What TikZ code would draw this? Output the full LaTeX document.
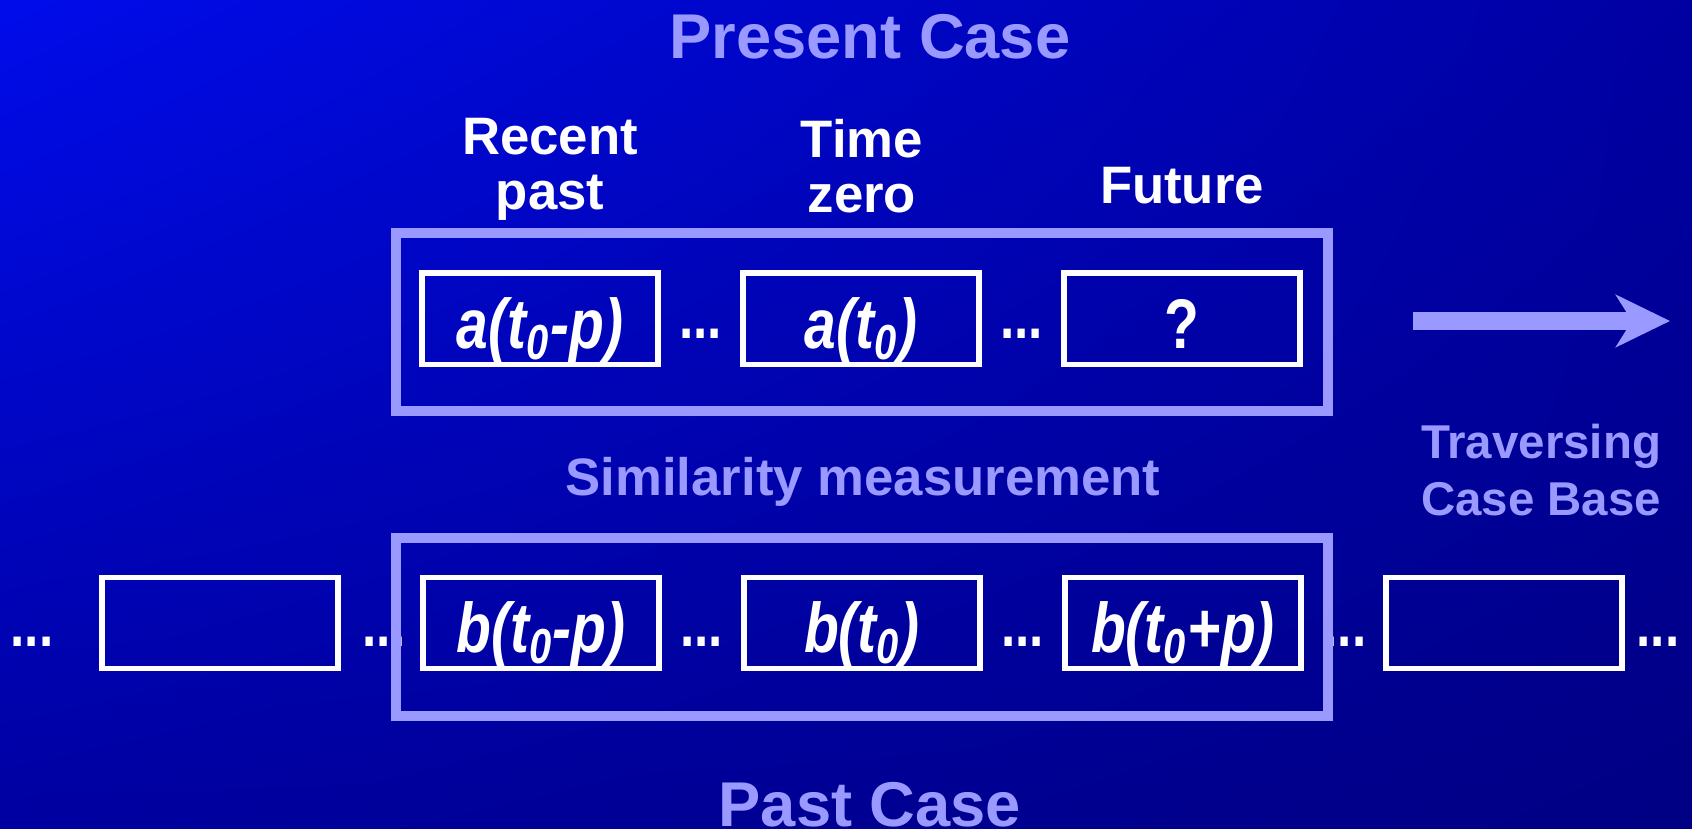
\documentclass[tikz,border=0pt]{standalone}
\usepackage{fontspec}
\setmainfont{Liberation Sans}
\newfontfamily\cellfont[FakeStretch=0.81]{Liberation Sans}
\usepackage{tikz}
\usetikzlibrary{arrows.meta,positioning,calc,shadings}
\definecolor{bgtopleft}{RGB}{0,12,235}
\definecolor{bgtopright}{RGB}{0,0,162}
\definecolor{bgbotleft}{RGB}{0,0,160}
\definecolor{bgbotright}{RGB}{0,0,132}
\definecolor{lavender}{RGB}{153,153,255}
\newcommand{\tz}{t\textsubscript{0}}

\begin{document}
\begin{tikzpicture}[
    x=1cm, y=1cm,
    node distance=0.79cm,
    headline/.style={font=\fontsize{18}{20}\selectfont\bfseries, text=lavender, inner sep=0pt},
    steplabel/.style={font=\fontsize{15}{15.6}\selectfont\bfseries, text=white, align=center, inner sep=0pt},
    sidelabel/.style={font=\fontsize{15}{15.6}\selectfont\bfseries, text=lavender, align=center, inner sep=0pt},
    cell/.style={draw=white, line width=1.7pt, minimum width=2.36cm, minimum height=0.91cm,
                 text=white, font=\cellfont\fontsize{20}{24}\selectfont\bfseries\itshape,
                 text height=16.8pt, text depth=0pt, inner sep=0pt},
    gap/.style={text=white, font=\cellfont\fontsize{18}{20}\selectfont\bfseries, inner sep=0pt},
    frame/.style={draw=lavender, line width=2.8pt, minimum width=9.32cm, minimum height=1.78cm, inner sep=0pt},
    push/.style={draw=lavender, line width=5pt, -{Stealth[length=5.4mm, width=5.2mm, inset=1.6mm]}}
]
\useasboundingbox (0,0) rectangle (16.92,8.29);
\shade[upper left=bgtopleft, upper right=bgtopright, lower left=bgbotleft, lower right=bgbotright]
    (0,0) rectangle (16.92,8.29);

\node[headline, anchor=base] (present label) at (8.70,7.70) {Present Case};
\node[steplabel] (recent) at (5.50,6.60) {Recent\\past};
\node[steplabel] (zero) at (8.62,6.63) {Time\\zero};
\node[steplabel, anchor=base] (future) at (11.82,6.25) {Future};

\node[cell] (a1) at (5.40,5.10) {a(\tz-p)};
\node[cell, right=of a1] (a2) {a(\tz)};
\node[cell, right=of a2] (a3) {\upshape ?};
\node[gap] (ga1) at ($(a1)!0.5!(a2)+(0,-0.15)$) {...};
\node[gap] (ga2) at ($(a2)!0.5!(a3)+(0,-0.15)$) {...};
\node[frame] (present) at (8.62,5.07) {};

\node[sidelabel, anchor=base] (similarity) at (8.63,3.33) {Similarity measurement};

\node[cell] (b0) at (2.20,2.06) {};
\node[cell, right=of b0] (b1) {b(\tz-p)};
\node[cell, right=of b1] (b2) {b(\tz)};
\node[cell, right=of b2] (b3) {b(\tz+p)};
\node[cell, right=of b3] (b4) {};
\node[gap] (gb0) at (0.32,1.87) {...};
\node[gap] (gb1) at (3.84,1.87) {...};
\node[gap] (gb2) at ($(b1)!0.5!(b2)+(0,-0.19)$) {...};
\node[gap] (gb3) at ($(b2)!0.5!(b3)+(0,-0.19)$) {...};
\node[gap] (gb4) at (13.45,1.87) {...};
\node[gap] (gb5) at (16.58,1.87) {...};
\node[frame] (past) at (8.62,2.02) {};

\node[headline, anchor=base] (past label) at (8.70,0.02) {Past Case};

\coordinate (tail) at (14.13,5.08);
\coordinate (tip) at (16.70,5.08);
\draw[push] (tail) -- (tip);
\node[sidelabel, font=\fontsize{13.5}{16}\selectfont\bfseries] (traverse) at (15.41,3.59) {Traversing\\Case Base};
\end{tikzpicture}
\end{document}
